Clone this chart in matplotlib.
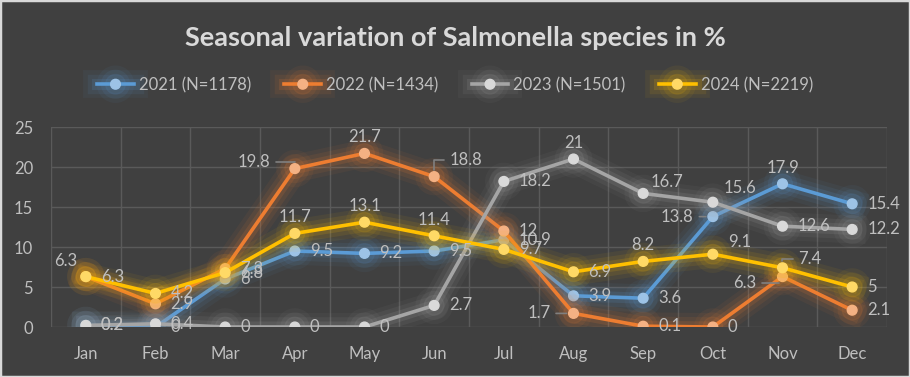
import matplotlib
matplotlib.use("Agg")
import matplotlib.pyplot as plt
import matplotlib.patheffects as pe
from matplotlib.patches import Rectangle

months = ["Jan", "Feb", "Mar", "Apr", "May", "Jun", "Jul", "Aug", "Sep", "Oct", "Nov", "Dec"]
series_names = ["2021 (N=1178)", "2022 (N=1434)", "2023 (N=1501)", "2024 (N=2219)"]
v2021 = [0.2, 0, 6, 9.5, 9.2, 9.5, 10.9, 3.9, 3.6, 13.8, 17.9, 15.4]
v2022 = [6.3, 2.9, 7.3, 19.8, 21.7, 18.8, 12, 1.7, 0.1, 0, 6.3, 2.1]
v2023 = [0.2, 0.4, 0, 0, 0, 2.7, 18.2, 21, 16.7, 15.6, 12.6, 12.2]
v2024 = [6.3, 4.2, 6.8, 11.7, 13.1, 11.4, 9.7, 6.9, 8.2, 9.1, 7.4, 5]
yticks = [0, 5, 10, 15, 20, 25]
title = "Seasonal variation of Salmonella species in %"

values = [v2021, v2022, v2023, v2024]
colors = ["#5B9BD5", "#ED7D31", "#A5A5A5", "#FFC000"]
mfaces = ["#9DC3E6", "#F4B183", "#D9D9D9", "#FFD966"]

BG = "#404040"
TXT = "#BFBFBF"
plt.rcParams['font.family'] = ['Lato', 'DejaVu Sans']

fig = plt.figure(figsize=(9.10, 3.77), dpi=100, facecolor=BG)
ax = fig.add_axes([51/910, 1-327/377, (887-51)/910, (327-127)/377])
ax.set_facecolor(BG)

x = list(range(len(months)))
for i, (vals, c, mf) in enumerate(zip(values, colors, mfaces)):
    ax.plot(x, vals, color=c, lw=2.6, marker='o', ms=7, mfc=mf, mec=mf,
            zorder=3 + i, label=series_names[i],
            path_effects=[pe.Stroke(linewidth=20, foreground=c, alpha=0.06),
                          pe.Stroke(linewidth=14, foreground=c, alpha=0.09),
                          pe.Stroke(linewidth=8, foreground=c, alpha=0.14),
                          pe.Normal()])

# label placement: (dx, dy, ha, leader)
R = (15, 0, 'left', False)
A = (0, 16, 'center', False)
special = {
    (1, 0): R, (3, 0): (-9, 16, 'right', False),
    (1, 3): (-24, 7, 'right', True), (1, 4): A, (1, 5): (15, 17, 'left', True),
    (1, 7): (-23, 0, 'right', True), (1, 10): (-26, -6, 'right', True),
    (3, 3): A, (3, 4): A, (3, 5): A, (3, 8): A, (3, 9): (15, 12, 'left', False),
    (3, 10): (16, 9, 'left', True),
    (0, 9): (-19, 0, 'right', True), (0, 10): A,
    (2, 7): A, (2, 8): (7, 11, 'left', False), (2, 9): (11, 14, 'left', False),
}
for i, vals in enumerate(values):
    for j, v in enumerate(vals):
        dx, dy, ha, leader = special.get((i, j), R)
        txt = f"{v:g}"
        kw = {}
        if leader:
            kw['arrowprops'] = dict(arrowstyle='-', color='#808080', lw=1.2,
                                    shrinkA=2, shrinkB=5,
                                    connectionstyle='angle,angleA=0,angleB=90' if dy != 0 else 'arc3')
        ax.annotate(txt, (j, v), xytext=(dx, dy), textcoords='offset pixels',
                    ha=ha, va='center', fontsize=12, color=TXT, zorder=10, **kw)

ax.set_xlim(-0.5, 11.5)
ax.set_ylim(0, 25)
ax.set_yticks(yticks)
ax.set_xticks(x)
ax.set_xticklabels(months)
ax.set_xticks([k + 0.5 for k in range(-1, 12)], minor=True)
ax.grid(True, which='major', axis='y', color='#5A5A5A', lw=1)
ax.grid(True, which='minor', axis='x', color='#5A5A5A', lw=1)
ax.set_axisbelow(True)
ax.tick_params(which='both', length=0)
ax.tick_params(axis='both', colors=TXT, labelsize=12)
ax.tick_params(axis='x', pad=14)
ax.tick_params(axis='y', pad=13)
for s in ax.spines.values():
    s.set_visible(False)

fig.text(0.5, 1-38/377, title, ha='center', va='center', fontsize=19.5,
         fontweight='bold', color='#D9D9D9')

leg = fig.legend(loc='center', bbox_to_anchor=(0.5, 1-85/377), ncol=4, frameon=False,
                 fontsize=12, labelcolor=TXT, handlelength=2.2, columnspacing=2.0,
                 handletextpad=0.3)

fig.patches.append(Rectangle((0, 0), 1, 1, transform=fig.transFigure, fill=False,
                             edgecolor='#D9D9D9', lw=2.5))
fig.savefig("out.png", dpi=100, facecolor=BG)
